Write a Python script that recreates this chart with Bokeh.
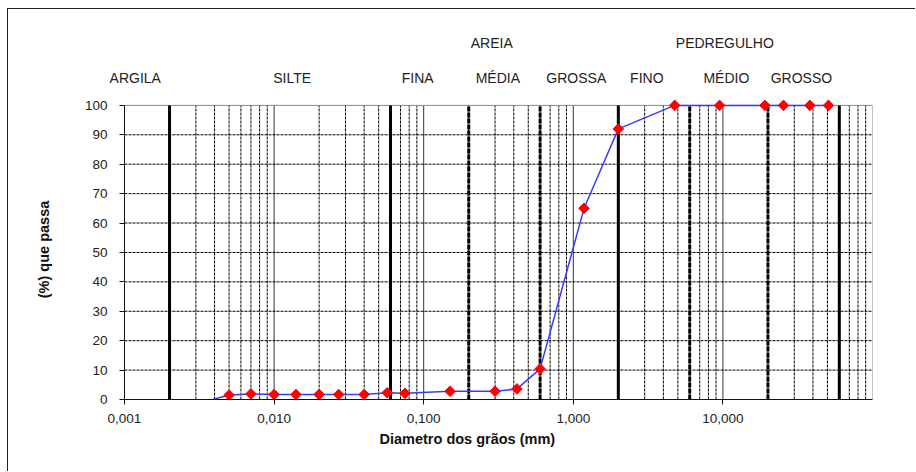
import math
from bokeh.plotting import figure
from bokeh.models import Range1d, FixedTicker, LogAxis, Title
from bokeh.embed import file_html
from bokeh.resources import INLINE

# ---- data ----
diametro = [0.0039, 0.005, 0.007, 0.010, 0.014, 0.020, 0.027, 0.040, 0.057,
            0.075, 0.150, 0.300, 0.420, 0.600, 1.180, 2.000, 4.760, 9.500,
            19.100, 25.400, 38.100, 50.800]
passante = [0.0, 1.5, 1.9, 1.7, 1.7, 1.7, 1.7, 1.7, 2.3,
            2.1, 2.8, 2.8, 3.6, 10.4, 65.0, 92.0, 100.0, 100.0,
            100.0, 100.0, 100.0, 100.0]

x_ticks = [0.001, 0.01, 0.1, 1.0, 10.0]
x_tick_labels = ["0,001", "0,010", "0,100", "1,000", "10,000"]
y_ticks = [0, 10, 20, 30, 40, 50, 60, 70, 80, 90, 100]

limites_solidos = [0.002, 0.06, 2.0, 60.0]
limites_tracejados = [0.2, 0.6, 6.0, 20.0]

classes = ["ARGILA", "SILTE", "FINA", "MÉDIA", "GROSSA", "FINO", "MÉDIO", "GROSSO"]
classes_x = [0.00118, 0.0132, 0.0912, 0.313, 1.047, 3.10, 10.55, 33.5]
grupos = ["AREIA", "PEDREGULHO"]
grupos_x = [0.285, 10.3]

decadas = [0.001, 0.01, 0.1, 1.0, 10.0]
multiplos = [2, 3, 4, 5, 6, 7, 8, 9]

X_MIN, X_MAX = 0.001, 100.0
Y_MIN, Y_MAX = 0.0, 100.0
Y_TOP = 102.0   # a little head-room so markers at 100 % are not clipped

FONT = "Liberation Sans"
TXT = "#222222"

p = figure(width=908, height=463, x_axis_type="log",
           x_range=Range1d(X_MIN, X_MAX), y_range=Range1d(Y_MIN, Y_TOP),
           output_backend="svg", toolbar_location=None,
           min_border_left=116, min_border_right=44,
           min_border_top=90, min_border_bottom=73)
p.styles = {"border-left": "1px solid #222", "border-top": "1px solid #222",
            "margin-left": "7px", "margin-top": "8px"}
p.xgrid.visible = False
p.ygrid.visible = False
p.outline_line_color = None

xax = p.below[0]
yax = p.left[0]

# minor vertical gridlines (dashed)
minor_x = [d * m for d in decadas for m in multiplos]
n = len(minor_x)
p.segment(x0=minor_x, y0=[Y_MIN] * n, x1=minor_x, y1=[Y_MAX] * n,
          line_color="black", line_width=1, line_dash="3 1")
# decade lines (solid thin)
dec_lines = decadas[1:]
p.segment(x0=dec_lines, y0=[Y_MIN] * len(dec_lines), x1=dec_lines, y1=[Y_MAX] * len(dec_lines),
          line_color="#333333", line_width=1)
# horizontal gridlines (dashed)
hy = y_ticks[1:-1]
p.segment(x0=[X_MIN] * len(hy), y0=hy, x1=[X_MAX] * len(hy), y1=hy,
          line_color="black", line_width=1, line_dash="3 1")
# top and right edges of the plot area (grey)
p.segment(x0=[X_MIN, X_MAX], y0=[Y_MAX, Y_MIN], x1=[X_MAX, X_MAX], y1=[Y_MAX, Y_MAX],
          line_color="#8a8a8a", line_width=1)
# classification boundaries
p.segment(x0=limites_solidos, y0=[Y_MIN] * 4, x1=limites_solidos, y1=[Y_MAX] * 4,
          line_color="black", line_width=3)
p.segment(x0=limites_tracejados, y0=[Y_MIN] * 4, x1=limites_tracejados, y1=[Y_MAX] * 4,
          line_color="black", line_width=3, line_dash="5 1")

# curve
p.line(diametro, passante, line_color="#3a3aff", line_width=1.5)
p.scatter(diametro[1:], passante[1:], marker="square", angle=math.pi / 4,
          size=7.5, fill_color="red", line_color="red")


def label_axis(xs, names, standoff):
    ax = LogAxis(ticker=FixedTicker(ticks=xs, minor_ticks=[]),
                 major_label_overrides=dict(zip(xs, names)))
    ax.axis_line_color = None
    ax.major_tick_line_color = None
    ax.minor_tick_line_color = None
    ax.major_tick_in = 0
    ax.major_tick_out = 0
    ax.major_label_standoff = standoff
    ax.major_label_text_font = FONT
    ax.major_label_text_font_size = "14px"
    ax.major_label_text_color = TXT
    return ax


# axes
xax.ticker = FixedTicker(ticks=x_ticks, minor_ticks=[])
xax.major_label_overrides = dict(zip(x_ticks, x_tick_labels))
yax.ticker = FixedTicker(ticks=y_ticks, minor_ticks=[])
yax.bounds = (Y_MIN, Y_MAX)
for ax in (xax, yax):
    ax.axis_line_color = "#111111"
    ax.major_tick_line_color = "#111111"
    ax.major_tick_in = 0
    ax.major_tick_out = 5
    ax.minor_tick_line_color = None
    ax.major_label_text_font = FONT
    ax.major_label_text_font_size = "13.5px"
    ax.major_label_text_color = TXT
    ax.axis_label_text_font = FONT
    ax.axis_label_text_font_style = "bold"
    ax.axis_label_text_font_size = "14.5px"
    ax.axis_label_text_color = "#111111"
yax.axis_label = "(%) que passa"
xax.major_label_standoff = 9
yax.major_label_standoff = 12
yax.axis_label_standoff = 30

# x-axis title (left of centre, as in the original)
p.add_layout(Title(text="Diametro dos grãos (mm)", align="left", offset=255,
                   standoff=7, text_font=FONT, text_font_style="bold",
                   text_font_size="14.5px", text_color="#111111"), "below")

# class labels above the grid (first row near the frame, group row above it)
p.add_layout(label_axis(classes_x, classes, 14), "above")
p.add_layout(label_axis(grupos_x, grupos, 16), "above")

open("out.html", "w").write(file_html(p, INLINE))
